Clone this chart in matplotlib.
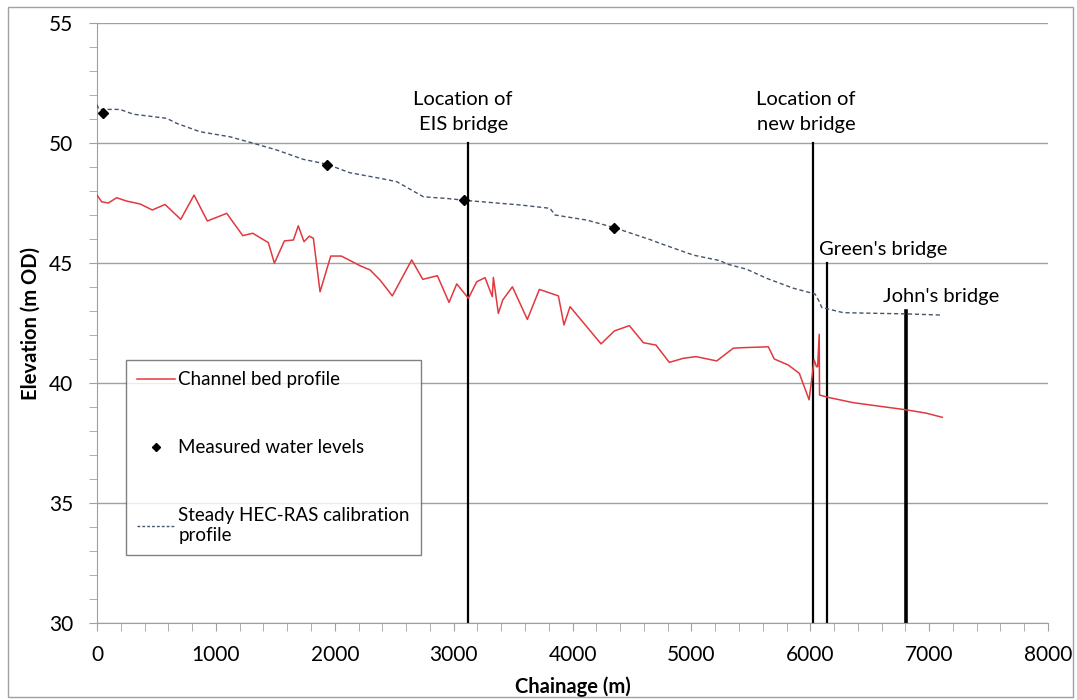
import matplotlib.pyplot as plt
from matplotlib.lines import Line2D
from matplotlib.patches import Rectangle
from matplotlib.ticker import MultipleLocator

plt.rcParams['font.family'] = ['Lato', 'DejaVu Sans']

# Channel bed profile (chainage m, elevation m OD)
bed_x = [0, 39, 95, 165, 250, 362, 465, 572, 704, 816, 928, 1091, 1226, 1310, 1441, 1492,
         1576, 1652, 1693, 1741, 1786, 1820, 1876, 1966, 2055, 2212, 2297, 2381, 2484, 2647,
         2740, 2863, 2961, 3026, 3124, 3194, 3264, 3325, 3334, 3376, 3413, 3494, 3620, 3721,
         3881, 3928, 3979, 4119, 4240, 4352, 4478, 4596, 4702, 4814, 4932, 5039, 5213, 5352,
         5417, 5647, 5697, 5815, 5908, 5990, 6033, 6052, 6062, 6075, 6078, 6152, 6362, 6811,
         6979, 7110]
bed_y = [47.83, 47.55, 47.5, 47.72, 47.58, 47.46, 47.21, 47.44, 46.82, 47.83, 46.75, 47.07,
         46.14, 46.24, 45.85, 44.99, 45.92, 45.96, 46.55, 45.89, 46.12, 46.03, 43.80, 45.29,
         45.29, 44.89, 44.71, 44.29, 43.63, 45.13, 44.32, 44.47, 43.36, 44.13, 43.53, 44.22,
         44.39, 43.60, 44.40, 42.90, 43.46, 44.01, 42.65, 43.90, 43.63, 42.42, 43.18, 42.35,
         41.63, 42.17, 42.39, 41.68, 41.58, 40.86, 41.03, 41.10, 40.92, 41.45, 41.47, 41.51,
         41.00, 40.75, 40.40, 39.30, 40.96, 40.68, 40.68, 42.03, 39.50, 39.40, 39.18, 38.88,
         38.74, 38.57]

# Measured water levels
meas_x = [53, 1932, 3087, 4349]
meas_y = [51.24, 49.08, 47.63, 46.45]

# Steady HEC-RAS calibration profile
cal_x = [0, 15, 193, 306, 586, 670, 866, 1119, 1315, 1511, 1735, 1932, 2128, 2381, 2521,
         2745, 2941, 3121, 3558, 3810, 3853, 4119, 4349, 4661, 4736, 5016, 5240, 5297, 5465,
         5634, 5857, 6040, 6076, 6096, 6278, 6811, 7105]
cal_y = [51.6, 51.4, 51.4, 51.2, 51.03, 50.82, 50.47, 50.26, 49.99, 49.71, 49.32, 49.12,
         48.76, 48.53, 48.39, 47.76, 47.69, 47.6, 47.42, 47.28, 47.0, 46.79, 46.48, 45.96,
         45.82, 45.33, 45.1, 44.96, 44.74, 44.36, 43.95, 43.71, 43.39, 43.15, 42.93, 42.88,
         42.83]

# Bridges: chainage, top of marker line, line width
bridge_x = [3121, 6020, 6143, 6808]
bridge_top = [50, 50, 45, 43]
bridge_lw = [1.6, 1.6, 1.6, 2.6]

fig = plt.figure(figsize=(10.77, 7.0), dpi=100)
ax = fig.add_axes([0.0901, 0.11, 0.883, 0.8571])

grey = '#a0a0a0'
ax.set_xlim(0, 8000)
ax.set_ylim(30, 55)
ax.xaxis.set_major_locator(MultipleLocator(1000))
ax.xaxis.set_minor_locator(MultipleLocator(200))
ax.yaxis.set_major_locator(MultipleLocator(5))
ax.yaxis.set_minor_locator(MultipleLocator(1))
ax.grid(axis='y', which='major', color=grey, lw=1)
ax.set_axisbelow(True)
for s in ['top', 'right']:
    ax.spines[s].set_visible(False)
for s in ['left', 'bottom']:
    ax.spines[s].set_color(grey)
ax.tick_params(which='both', direction='out', color=grey, length=6, labelsize=15)
ax.tick_params(axis='y', pad=11)
ax.tick_params(axis='x', pad=10)

for bx, bt, lw in zip(bridge_x, bridge_top, bridge_lw):
    ax.plot([bx, bx], [30, bt], color='black', lw=lw, zorder=2)

ax.plot(bed_x, bed_y, color='#e0393e', lw=1.1, zorder=3)
ax.plot(cal_x, cal_y, color='#44546a', lw=1, ls=(0, (3, 2)), zorder=3)
ax.plot(meas_x, meas_y, ls='none', marker='D', ms=5, color='black', zorder=4)

ax.text(3080, 51.3, 'Location of\nEIS bridge', ha='center', va='center', fontsize=14.5, linespacing=1.55)
ax.text(5964, 51.3, 'Location of\nnew bridge', ha='center', va='center', fontsize=14.5, linespacing=1.55)
ax.text(6074, 45.58, "Green's bridge", ha='left', va='center', fontsize=14.5)
ax.text(6614, 43.6, "John's bridge", ha='left', va='center', fontsize=14.5)

ax.set_xlabel('Chainage (m)', fontsize=14.5, fontweight='bold', labelpad=8)
ax.set_ylabel('Elevation (m OD)', fontsize=14.5, fontweight='bold', labelpad=6)

handles = [Line2D([], [], color='#e0393e', lw=1.1),
           Line2D([], [], ls='none', marker='D', ms=4, color='black'),
           Line2D([], [], color='#44546a', lw=1, ls=(0, (2, 1.5)))]
labels = ['Channel bed profile', 'Measured water levels', 'Steady HEC-RAS calibration\nprofile']
leg = ax.legend(handles, labels, loc='upper left', bbox_to_anchor=(0.0302, 0.438),
                fontsize=13.5, labelspacing=2.7, handlelength=2.0, handletextpad=0.2,
                frameon=True, fancybox=False, edgecolor='#606060', borderpad=0.6,
                borderaxespad=0)
leg.get_frame().set_linewidth(1)

fig.add_artist(Rectangle((8 / 1077, 3 / 700), 1065 / 1077, 690 / 700, transform=fig.transFigure,
                         fill=False, edgecolor=grey, lw=1))

fig.savefig('out.png', dpi=100)
